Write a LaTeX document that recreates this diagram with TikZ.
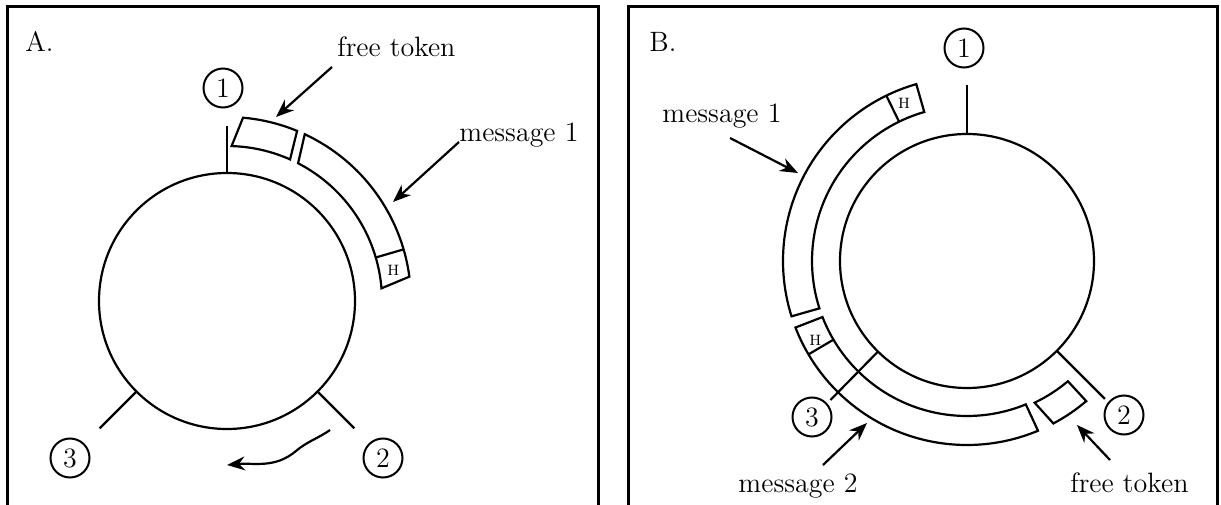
\documentclass[tikz,border=0pt]{standalone}
\usepackage{tikz}
\usetikzlibrary{arrows.meta,calc}

\tikzset{
  panel/.style={line width=1.5pt},
  ring/.style={line width=1.1pt},
  station/.style={draw,circle,line width=1pt,minimum size=19.5pt,inner sep=0pt,
    font=\fontsize{14}{16}\selectfont},
  pointer/.style={line width=1.1pt,-{Stealth[length=9pt,width=7pt]}},
  lbl/.style={font=\fontsize{14}{16}\selectfont,inner sep=0pt,anchor=base west},
  hdr/.style={font=\fontsize{7.5}{8}\selectfont,inner sep=0pt}
}

\begin{document}
\begin{tikzpicture}[x=0.5pt,y=0.5pt]
\useasboundingbox (0,0) rectangle (1221,504);

%%% left panel: token and one message on the ring
\draw[panel] (7,-4) -- (7,497) -- (598,497) -- (598,-4);
\node[lbl] (labA) at (25,452) {A.};

\coordinate (cA) at (227,203);%centre of the ring
\draw[ring] (cA) circle[radius=128];
\draw[ring] (cA) ++(90:128) -- ++(90:47);
\draw[ring] (cA) ++(225:128) -- ++(225:52);
\draw[ring] (cA) ++(315:128) -- ++(315:52);

\node[station] (sA1) at (223,416) {1};
\node[station] (sA2) at (383,46) {2};
\node[station] (sA3) at (70,46) {3};

% free token
\draw[ring] ($(cA)+(85:184)$) arc[start angle=85,end angle=67.6,radius=184]
  -- ($(cA)+(66:155)$) arc[start angle=66,end angle=88.3,radius=155] -- cycle;
% message with its header
\draw[ring] ($(cA)+(65:184)$) arc[start angle=65,end angle=7.6,radius=184]
  -- ($(cA)+(4.7:155)$) arc[start angle=4.7,end angle=62.7,radius=155] -- cycle;
\draw[ring] ($(cA)+(16.3:155)$) -- ($(cA)+(16.3:184)$);
\node[hdr] (hA) at ($(cA)+(10.3:169)$) {H};

\node[lbl] (ftA) at (337,447) {free token};
\node[lbl] (m1A) at (459,362) {message 1};
\coordinate (ftAtail) at (332,437);
\coordinate (ftAtip) at (276,387);
\coordinate (m1Atip) at (393,302);
\draw[pointer] (ftAtail) -- (ftAtip);
\draw[pointer] (m1A.base west) -- (m1Atip);

% direction of travel
\coordinate (rotS) at (330,74);
\coordinate (rotM) at (296,53);
\coordinate (rotE) at (227,39);
\draw[pointer] (rotS) to[out=215,in=40] (rotM) to[out=220,in=5] (rotE);

%%% right panel: two messages and the token
\draw[panel] (628,-4) -- (628,497) -- (1217,497) -- (1217,-4);
\node[lbl] (labB) at (649,452) {B.};

\coordinate (cB) at (967,243);
\draw[ring] (cB) circle[radius=127];
\draw[ring] (cB) ++(90:127) -- ++(90:49);

\node[station] (sB1) at (964,456) {1};
\node[station] (sB2) at (1124,89) {2};
\node[station] (sB3) at (812,87) {3};

% message 1
\draw[ring] ($(cB)+(106:184)$) arc[start angle=106,end angle=197.5,radius=184]
  -- ($(cB)+(197.8:155)$) arc[start angle=197.8,end angle=106,radius=155] -- cycle;
\draw[ring] ($(cB)+(116:155)$) -- ($(cB)+(116:184)$);
\node[hdr] (hB1) at ($(cB)+(111.7:170)$) {H};
% message 2
\draw[ring] ($(cB)+(201.2:184)$) arc[start angle=201.2,end angle=292.7,radius=184]
  -- ($(cB)+(292.3:155)$) arc[start angle=292.3,end angle=201.2,radius=155] -- cycle;
\draw[ring] ($(cB)+(210.5:155)$) -- ($(cB)+(210.5:184)$);
\node[hdr] (hB2) at ($(cB)+(207.5:171)$) {H};
% free token
\draw[ring] ($(cB)+(298:184)$) arc[start angle=298,end angle=310.4,radius=184]
  -- ($(cB)+(310:157)$) arc[start angle=310,end angle=295.5,radius=157] -- cycle;

% taps of stations 3 and 2 (drawn over the band)
\draw[ring] (cB) ++(225.5:127) -- ++(225.5:68);
\draw[ring] (cB) ++(315:127) -- ++(315:68);

\node[lbl] (m1B) at (662,381) {message 1};
\node[lbl,anchor=base east] (m2B) at (858,12) {message 2};
\node[lbl] (ftB) at (1070,12) {free token};
\coordinate (m1Btail) at (730,366);
\coordinate (m1Btip) at (798,331);
\coordinate (m2Btail) at (823,39);
\coordinate (m2Btip) at (867,81);
\coordinate (ftBtail) at (1110,44);
\coordinate (ftBtip) at (1077,79);
\draw[pointer] (m1Btail) -- (m1Btip);
\draw[pointer] (m2Btail) -- (m2Btip);
\draw[pointer] (ftBtail) -- (ftBtip);

\end{tikzpicture}
\end{document}
